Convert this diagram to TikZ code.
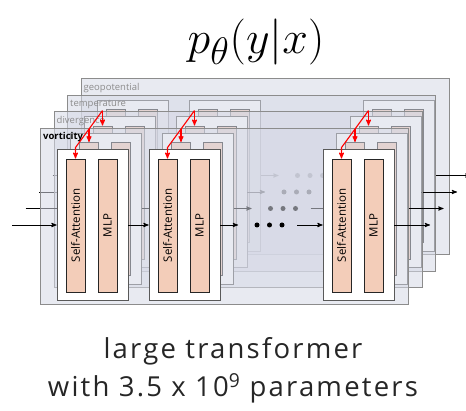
\documentclass[tikz,border=0pt]{standalone}
\usepackage{fontspec}
\usepackage{graphicx}
\newfontfamily\sansfont{Open Sans}
\newfontfamily\captionfont[LetterSpace=8]{Open Sans}
\usetikzlibrary{arrows}
\usetikzlibrary{calc}
\definecolor{planefill}{RGB}{214,217,230}
\definecolor{salmon}{RGB}{243,205,185}
\tikzset{
	layerplane/.style = {
		rectangle,
		draw=black!45,
		line width=0.8pt,
		fill=planefill,
		fill opacity=0.55,
		anchor=north west,
		inner sep=0pt,
		minimum width=368pt,
		minimum height=176pt
	},
	layerlabel/.style = {
		anchor=base west,
		inner sep=0pt,
		font=\sansfont\fontsize{9.5}{11}\selectfont
	},
	blockbox/.style = {
		rectangle,
		draw=black!65,
		line width=0.8pt,
		fill=white,
		inner sep=0pt,
		minimum width=71pt,
		minimum height=151pt
	},
	sabox/.style = {
		rectangle,
		draw=black!85,
		line width=0.9pt,
		fill=salmon,
		inner sep=0pt,
		minimum width=19pt,
		minimum height=133pt,
		font=\sansfont\fontsize{11.5}{13}\selectfont
	},
	mlpbox/.style = {
		sabox
	},
	dotnode/.style = {
		circle,
		fill=black,
		inner sep=0pt,
		minimum size=5pt
	},
	flow/.style = {
		->,
		draw=black,
		line width=0.9pt
	},
	xattn/.style = {
		->,
		draw=red,
		line width=1.1pt
	},
}
\begin{document}
\begin{tikzpicture}[x=1pt, y=-1pt, >=stealth']
\useasboundingbox (0,0) rectangle (466,411);
\node [font=\Huge, scale=1.85, transform shape] (title) at (256,42) {$p_\theta(y|x)$};
% one plane per variable, back to front
\foreach \k/\lab/\col in {3/geopotential/black!45, 2/temperature/black!45, 1/divergence/black!45, 0/vorticity/black} {
	\begin{scope}[shift={(13.5*\k,-16.5*\k)}]
	\node [layerplane] (pl-\k) at (40,128) {};
	\node [layerlabel, text=\col] (lab-\k) at ([xshift=3pt,yshift=-12pt]pl-\k.north west) {\ifnum\k=0 \bfseries\fi\lab};
	\foreach \b/\cx in {1/92.5, 2/184.5, 3/358.5} {
		\node [blockbox] (blk\b-\k) at (\cx,225) {};
		\node [sabox] (sa\b-\k) at (\cx-17,225.5) {\rotatebox{90}{Self-Attention}};
		\node [mlpbox] (mlp\b-\k) at (\cx+15,225.5) {\rotatebox{90}{MLP}};
	}
	\coordinate (in-\k) at (12,225);
	\coordinate (gapl-\k) at (238,225);
	\coordinate (gapr-\k) at (297,225);
	\coordinate (out-\k) at (430,225);
	\foreach \d in {0,1,2}
		\node [dotnode] (dot\d-\k) at (257+12.5*\d,225) {};
	\draw [flow] (in-\k) -- (blk1-\k.west);
	\draw [flow] (blk1-\k.east) -- (blk2-\k.west);
	\draw [flow] (blk2-\k.east) -- (gapl-\k);
	\draw [flow] (gapr-\k) -- (blk3-\k.west);
	\draw [flow] (blk3-\k.east) -- (out-\k);
	\end{scope}
}
% attention across the variables
\foreach \b in {1,2,3} {
	\coordinate (xtop\b) at ([yshift=15pt]sa\b-2.north);
	\coordinate (xbot\b) at ([yshift=11pt]sa\b-0.north);
	\draw [xattn] (xtop\b) -- (xbot\b) -- (sa\b-0.north);
	\draw [xattn] (xtop\b) -- (sa\b-2.north);
	\draw [xattn] ($(xtop\b)!0.5!(xbot\b)$) -- (sa\b-1.north);
}
\node [align=center, font=\captionfont\fontsize{27.5}{38}\selectfont, text=black!85] (caption) at (233,370) {large transformer\\with 3.5 x 10\textsuperscript{9} parameters};
\end{tikzpicture}
\end{document}
